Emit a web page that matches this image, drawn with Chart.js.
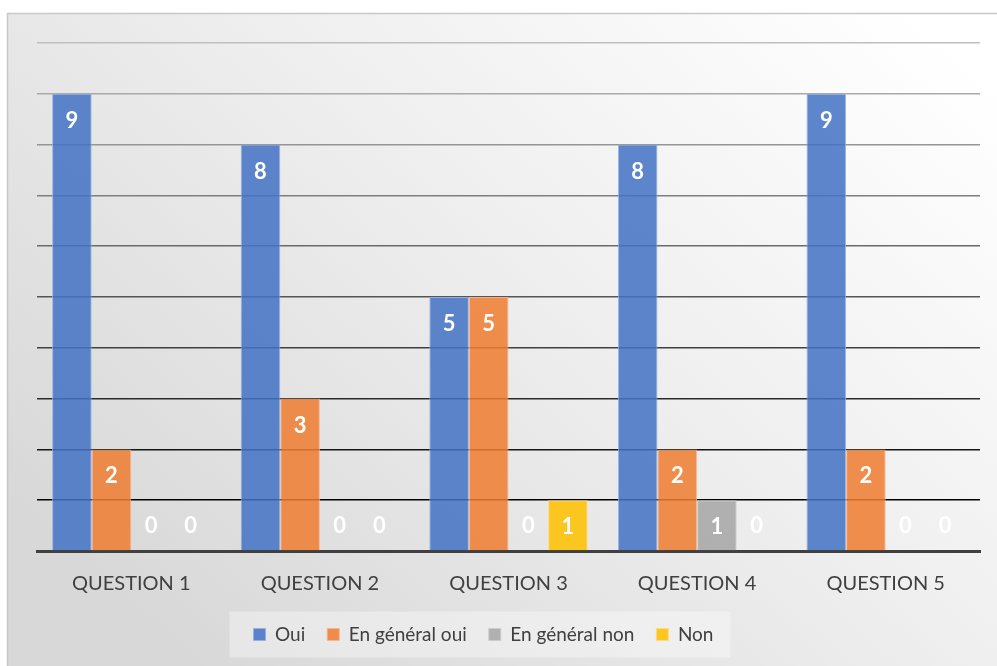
<!DOCTYPE html>
<html>
<head>
<meta charset="utf-8">
<script src="https://cdn.jsdelivr.net/npm/chart.js@4.4.1/dist/chart.umd.min.js"></script>
<style>
html,body{margin:0;padding:0;background:#fff;}
canvas{display:block;}
</style>
</head>
<body>
<canvas id="c" width="997" height="666"></canvas>
<script>
const categories = ["QUESTION 1", "QUESTION 2", "QUESTION 3", "QUESTION 4", "QUESTION 5"];
const seriesNames = ["Oui", "En général oui", "En général non", "Non"];
const oui = [9, 8, 5, 8, 9];
const enGeneralOui = [2, 3, 5, 2, 2];
const enGeneralNon = [0, 0, 0, 1, 0];
const non = [0, 0, 1, 0, 0];
const yMin = 0, yMax = 10, yStep = 1;

const fillColors = ["rgba(68,114,196,0.86)", "rgba(237,125,49,0.86)", "rgba(165,165,165,0.86)", "rgba(255,192,0,0.86)"];
const edgeColors = ["rgba(150,175,225,0.9)", "rgba(248,180,140,0.9)", "rgba(205,205,205,0.9)", "rgba(255,220,120,0.9)"];
const FONT = "Lato, 'Open Sans', sans-serif";

const bgPlugin = {
  id: 'bg',
  beforeDraw(chart) {
    const ctx = chart.ctx;
    ctx.save();
    ctx.fillStyle = '#ffffff';
    ctx.fillRect(0, 0, chart.width, chart.height);
    const g = ctx.createLinearGradient(900, 0, 250, 720);
    g.addColorStop(0, '#ffffff');
    g.addColorStop(0.45, '#efefef');
    g.addColorStop(1, '#d8d8d8');
    ctx.fillStyle = g;
    ctx.fillRect(7, 13, chart.width, chart.height);
    ctx.strokeStyle = '#c8c8c8';
    ctx.lineWidth = 1.5;
    ctx.strokeRect(7.5, 13.5, chart.width + 10, chart.height + 10);
    const lg = chart.legend;
    if (lg && lg.legendHitBoxes && lg.legendHitBoxes.length) {
      let l = Infinity, r = -Infinity, t = Infinity, b = -Infinity;
      lg.legendHitBoxes.forEach(h => {
        l = Math.min(l, h.left); r = Math.max(r, h.left + h.width);
        t = Math.min(t, h.top); b = Math.max(b, h.top + h.height);
      });
      const cy = (t + b) / 2;
      ctx.fillStyle = 'rgba(255,255,255,0.35)';
      ctx.fillRect(l - 24, cy - 23, (r - l) + 41, 46);
    }
    ctx.restore();
  }
};

const shiftLegend = {
  id: 'shiftLegend',
  afterLayout(chart) {
    const lg = chart.legend;
    if (lg) {
      const dx = -25;
      lg.left += dx; lg.right += dx;
      if (lg.legendHitBoxes) lg.legendHitBoxes.forEach(h => { h.left += dx; });
    }
  }
};

const labelPlugin = {
  id: 'vals',
  afterDatasetsDraw(chart) {
    const ctx = chart.ctx;
    const ys = chart.scales.y;
    ctx.save();
    ctx.fillStyle = '#ffffff';
    ctx.font = "bold 22px " + FONT;
    ctx.textAlign = 'center';
    ctx.textBaseline = 'middle';
    chart.data.datasets.forEach((ds, i) => {
      const meta = chart.getDatasetMeta(i);
      meta.data.forEach((el, j) => {
        const v = ds.data[j];
        const y = v === 0 ? ys.getPixelForValue(0) - 25 : el.y + 27;
        ctx.fillText(String(v), el.x, y);
      });
    });
    ctx.restore();
  }
};

function gridColor(v) {
  if (v <= 0) return 'rgba(0,0,0,0)';
  const lvl = Math.round(191 * (v - 1) / 9);
  return `rgb(${lvl},${lvl},${lvl})`;
}

const seriesData = [oui, enGeneralOui, enGeneralNon, non];

new Chart(document.getElementById('c'), {
  type: 'bar',
  data: {
    labels: categories,
    datasets: seriesNames.map((n, i) => ({
      label: n,
      data: seriesData[i],
      backgroundColor: fillColors[i],
      borderColor: edgeColors[i],
      borderWidth: 1,
      categoryPercentage: 0.84,
      barPercentage: 1.0
    }))
  },
  options: {
    responsive: false,
    devicePixelRatio: 1,
    animation: false,
    layout: { padding: { left: 37, right: 17, top: 43, bottom: 12 } },
    plugins: {
      tooltip: { enabled: false },
      legend: {
        position: 'bottom',
        labels: {
          boxWidth: 12, boxHeight: 12, padding: 22,
          color: '#404040',
          font: { family: FONT, size: 19 }
        }
      }
    },
    scales: {
      x: {
        grid: { display: false, drawTicks: false },
        border: { display: true, color: '#404040', width: 3 },
        ticks: { color: '#404040', font: { family: FONT, size: 20 }, padding: 21 },
        afterFit(s) { s.height -= 14; }
      },
      y: {
        min: yMin, max: yMax,
        ticks: { stepSize: yStep, display: false },
        border: { display: false },
        grid: {
          drawTicks: false,
          lineWidth: 1.6,
          color: (c) => gridColor(c.tick ? c.tick.value : 0)
        }
      }
    }
  },
  plugins: [bgPlugin, shiftLegend, labelPlugin]
});
</script>
</body>
</html>
